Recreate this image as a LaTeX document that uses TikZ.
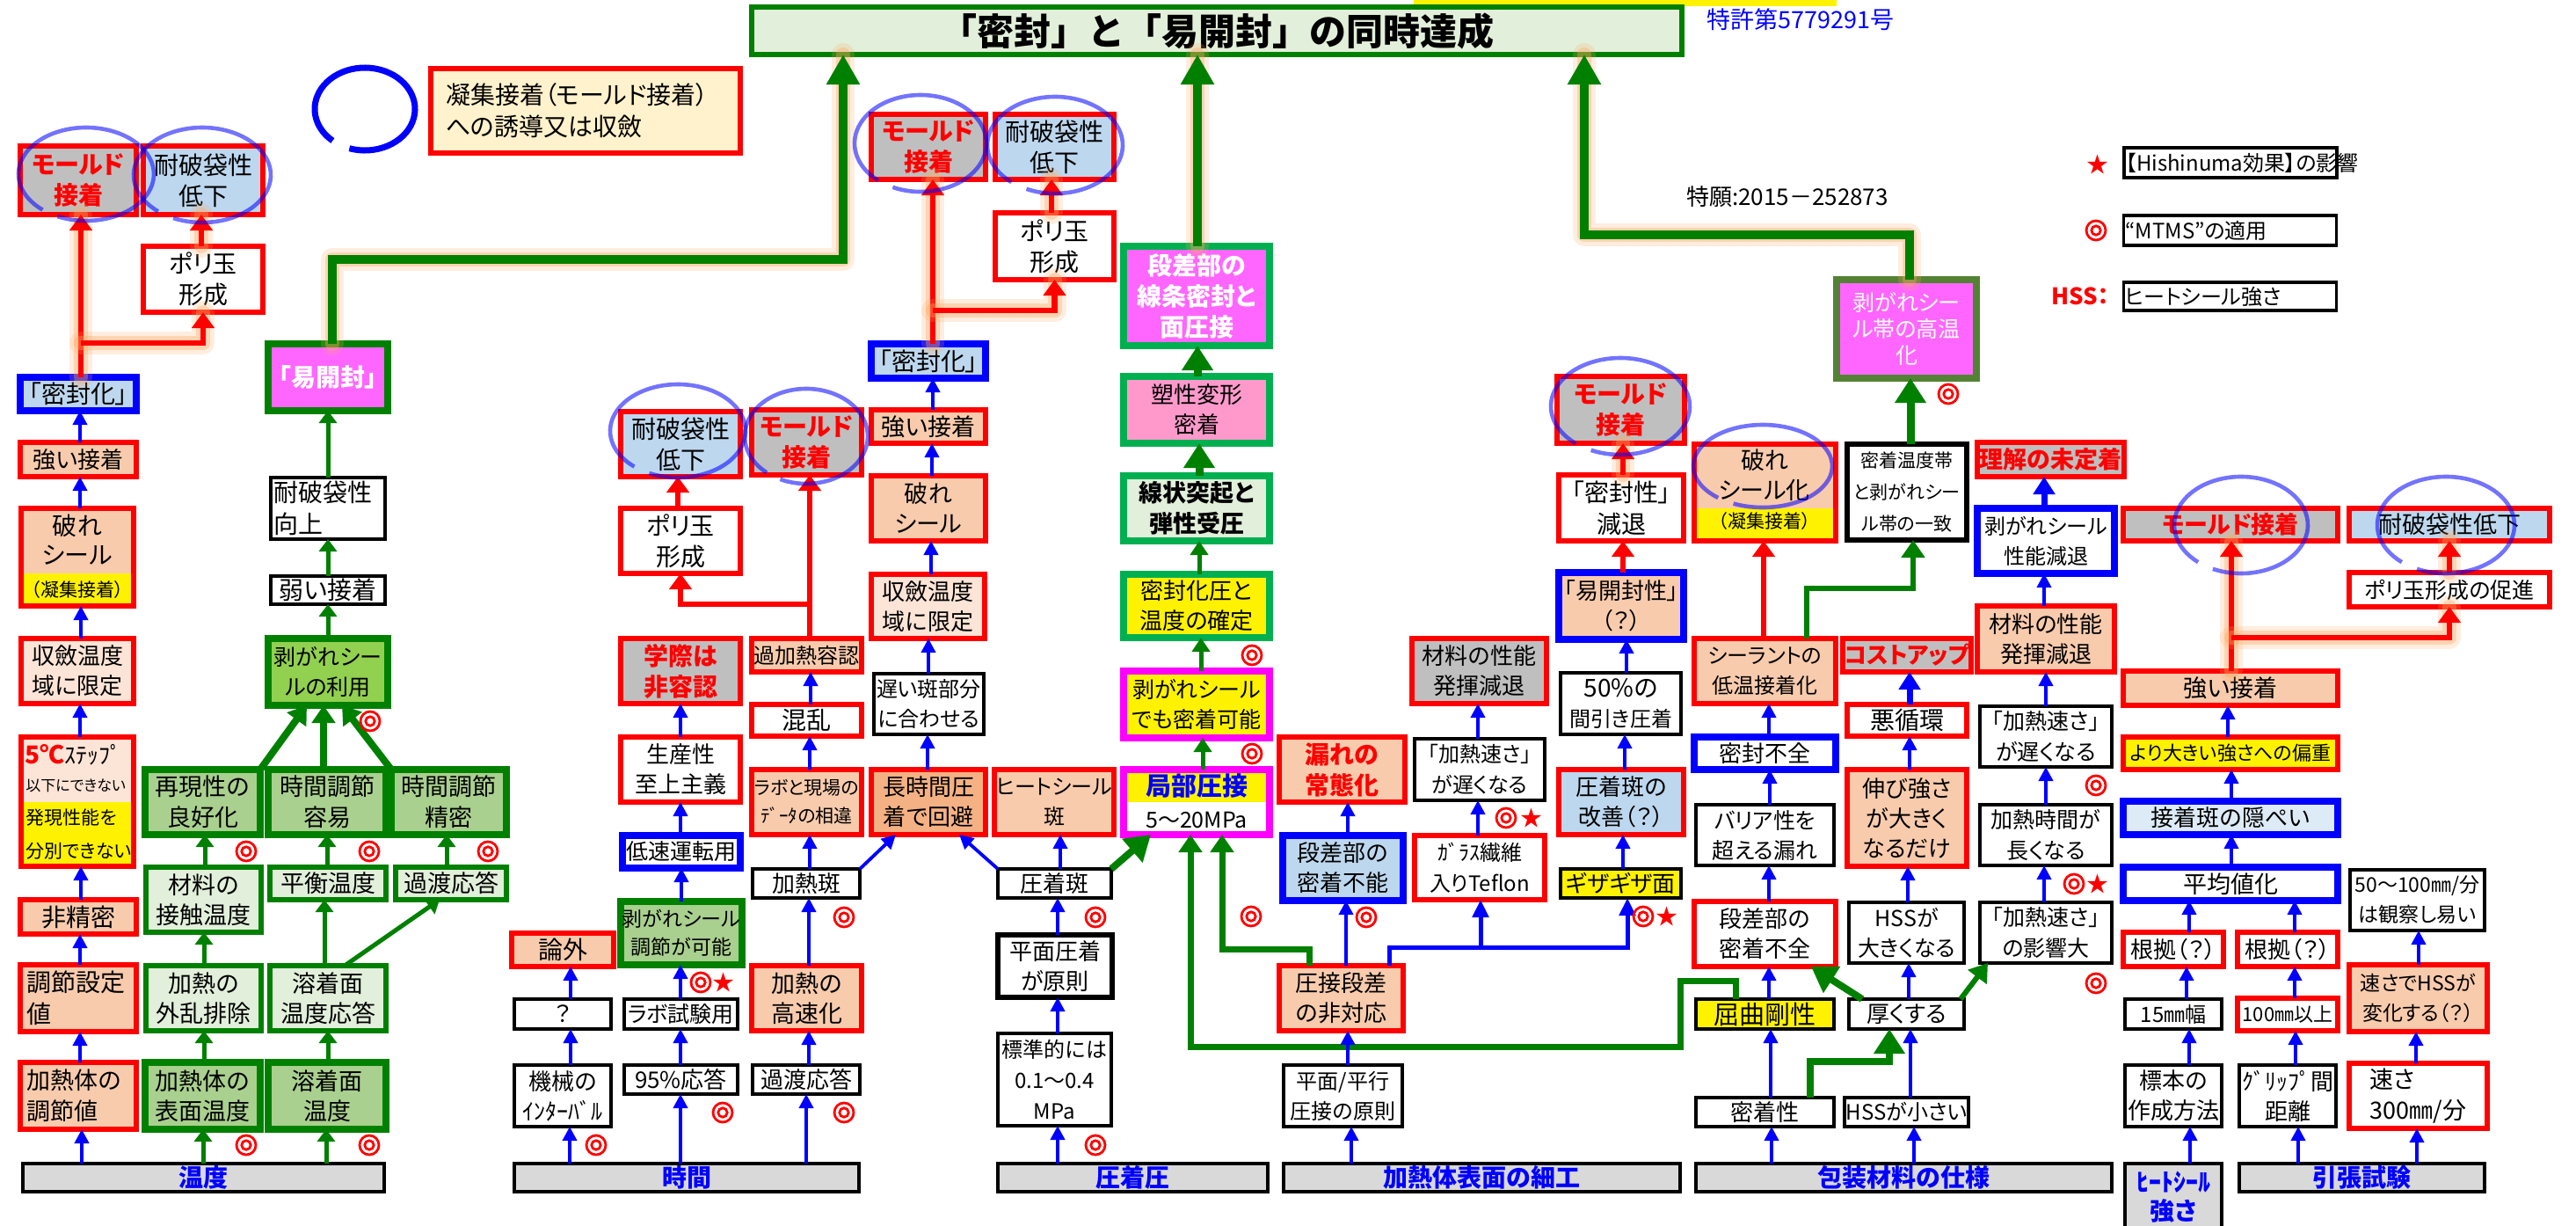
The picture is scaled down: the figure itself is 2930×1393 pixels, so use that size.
\documentclass[tikz,border=0pt]{standalone}
\usepackage{fontspec}
\setmainfont{Noto Sans CJK JP}[RawFeature=+palt]
\newfontfamily\plainjp{Noto Sans CJK JP}
\usetikzlibrary{arrows.meta}
\definecolor{grn}{HTML}{008000}
\definecolor{lgrn}{HTML}{00B050}
\definecolor{olv}{HTML}{548235}
\definecolor{mgb}{HTML}{FF00FF}
\definecolor{peach}{HTML}{F8CBAD}
\definecolor{lpeach}{HTML}{FCE4D6}
\definecolor{dpeach}{HTML}{F4B183}
\definecolor{gry}{HTML}{BFBFBF}
\definecolor{lblue}{HTML}{BDD7EE}
\definecolor{vlblue}{HTML}{DDEBF7}
\definecolor{lgreen}{HTML}{E2EFDA}
\definecolor{mgreen}{HTML}{A9D08E}
\definecolor{pgreen}{HTML}{92D050}
\definecolor{mag}{HTML}{FF66FF}
\definecolor{pink}{HTML}{FF99CC}
\definecolor{legy}{HTML}{FFF2CC}
\definecolor{barg}{HTML}{D9D9D9}
\definecolor{glowc}{HTML}{FFA860}
\newcommand\fz[2]{\fontsize{#1pt}{#2pt}\selectfont}
\newcommand\bx[7]{\node[box,#6,minimum width={(#4-#2)*0.5pt-3pt},minimum height={(#5-#3)*0.5pt-3pt}] (#1) at ({(#2+#4)/2},{(#3+#5)/2}) {#7};}
\newcommand\vup[4]{\draw[#1] (#2.north -| #4,0) -- (#3.south -| #4,0);}
\newcommand\lp[4]{\draw[ell] (#1,#2) ++(245:#3pt and #4pt) arc[start angle=245,end angle=590,x radius=#3pt,y radius=#4pt];}
\newcommand\dmk[3]{\node[dmsty] (#1) at (#2,#3) {};\draw[red,line width=1.4pt] (#1.center) circle[radius=2.6pt];}
\newcommand\stk[3]{\node[ststy] (#1) at (#2,#3) {★};}
\begin{document}
\begin{tikzpicture}[x=0.5pt,y=-0.5pt,
 box/.style={rectangle,outer sep=0pt,inner sep=1pt,align=center,font=\fz{13}{17}},
 rb/.style={draw=red,line width=3.2pt,fill=white},
 kb/.style={draw=black,line width=1.8pt,fill=white},
 kbt/.style={draw=black,line width=3pt,fill=white},
 kbl/.style={draw=black,line width=1.6pt,fill=white},
 bb/.style={draw=blue,line width=3.6pt,fill=white},
 gb/.style={draw=grn,line width=3.6pt},
 gbt/.style={draw=grn,line width=2.6pt},
 gb2/.style={draw=lgrn,line width=3.6pt},
 mb/.style={draw=mgb,line width=3.6pt},
 ob/.style={draw=olv,line width=3.6pt},
 barsty/.style={draw=black,line width=2pt,fill=barg,text=blue,font=\fz{14}{16.5}\bfseries},
 rt/.style={text=red,font=\fz{14}{17.5}\bfseries},
 lbl/.style={inner sep=0pt},
 glow/.style={preaction={draw=glowc,line width=13pt,opacity=0.2,arrows=-,line cap=round,line join=round},preaction={draw=glowc,line width=8pt,opacity=0.35,arrows=-,line cap=round,line join=round}},
 barr/.style={draw=blue,line width=1.9pt,-{Triangle[length=8pt,width=8pt]}},
 bthick/.style={draw=blue,line width=3.5pt,-{Triangle[length=10pt,width=12pt]}},
 bline/.style={draw=blue,line width=2.5pt,-{Triangle[length=10pt,width=9pt]}},
 rarr/.style={draw=red,line width=3.2pt,-{Triangle[length=9pt,width=12.5pt]}},
 garr/.style={draw=grn,line width=2.5pt,-{Triangle[length=7pt,width=10pt]}},
 gthick/.style={draw=grn,line width=4pt,-{Triangle[length=10pt,width=13pt]}},
 garr2/.style={draw=grn,line width=2.5pt,-{Triangle[length=8pt,width=10pt]}},
 gbig/.style={draw=grn,line width=4.5pt,-{Triangle[length=14pt,width=17pt]}},
 gline/.style={draw=grn,line width=3.5pt,-{Triangle[length=10pt,width=13pt]}},
 gtitle/.style={draw=grn,line width=5pt,-{Triangle[length=17pt,width=18pt]},glow},
 ell/.style={draw=blue,line width=2.3pt,opacity=0.55},
 dmsty/.style={circle,draw=red,line width=1.4pt,minimum size=11pt,inner sep=0pt},
 ststy/.style={text=red,font=\fz{12.5}{12.5},inner sep=0pt}
]
\fill[white] (0,0) rectangle (2930,1393);
\useasboundingbox (0,0) rectangle (2930,1393);
\fill[yellow] (1608,0) rectangle (2089,7);
% title and legend
\bx{tTitle}{852}{5}{1916}{65}{draw=grn,line width=3pt,fill=lgreen,font=\plainjp\fz{21}{21}\bfseries}{「密封」と「易開封」の同時達成}
\node[lbl,text=blue,font=\fz{13.5}{13.5}] (patent) at (2048,22) {特許第5779291号};
\node[lbl,font=\fz{13}{13}] (appl) at (2033,224) {特願:2015－252873};
\draw[blue,line width=3.5pt] (415,124) ++(252:28.5pt and 23.5pt) arc[start angle=252,end angle=590,x radius=28.5pt,y radius=23.5pt];
\bx{lgBox}{487}{75}{845}{177}{rb,fill=legy,text width=159pt,align=left,font=\fz{14}{18}}{凝集接着（モールド接着）\\への誘導又は収斂}
\stk{lgS}{2386}{187}
\bx{lgStar}{2414}{165}{2660}{205}{kbl,text width=119pt,align=left,font=\fz{12}{15}}{【Hishinuma効果】の影響}
\dmk{lgD}{2384}{262}
\bx{lgMt}{2414}{242}{2659}{282}{kbl,text width=119pt,align=left,font=\fz{12}{15}}{“MTMS”の適用}
\node[text=red,font=\fz{13}{13}\bfseries,inner sep=0pt] (lgH) at (2366,337) {HSS：};
\bx{lgHss}{2414}{318}{2659}{356}{kbl,text width=119pt,align=left,font=\fz{12}{15}}{ヒートシール強さ}
% column 1
\bx{aMold}{20}{163}{158}{247}{rb,fill=gry,rt}{モールド\\接着}
\bx{aTai}{160}{163}{302}{247}{rb,fill=lblue,font=\fz{14}{17.5}}{耐破袋性\\低下}
\bx{aPoly}{160}{277}{302}{358}{rb,font=\fz{14}{17.5}}{ポリ玉\\形成}
\bx{aMf}{20}{426}{158}{470}{bb,fill=lblue,font=\fz{14}{17}}{「密封化」}
\bx{aStr}{20}{500}{158}{545}{rb,fill=peach}{強い接着}
\fill[peach] (21,575) rectangle (155,652);
\fill[yellow] (21,652) rectangle (155,689);
\bx{aYab}{21}{575}{155}{692}{rb,fill=none}{}
\node[lbl,font=\fz{14}{14}] (aYab1) at (88,598) {破れ};
\node[lbl,font=\fz{14}{14}] (aYab2) at (88,631) {シール};
\node[lbl,font=\fz{10.5}{11}] (aYab3) at (88,671) {（凝集接着）};
\bx{aShu}{21}{723}{155}{803}{rb,fill=lpeach}{収斂温度\\域に限定}
\fill[lpeach] (21,835) rectangle (155,912);
\fill[yellow] (21,912) rectangle (155,985);
\bx{a5C}{21}{835}{155}{988}{rb,fill=none}{}
\node[lbl,anchor=west,font=\fz{13}{13}] (a5C1) at (28,858) {\textcolor{red}{\bfseries\fz{14}{14}5℃}ｽﾃｯﾌﾟ};
\node[lbl,anchor=west,font=\fz{8.5}{9}] (a5C2) at (29,893) {以下にできない};
\node[lbl,anchor=west,font=\fz{10.5}{11}] (a5C3) at (29,930) {発現性能を};
\node[lbl,anchor=west,font=\fz{10.5}{11}] (a5C4) at (29,968) {分別できない};
\bx{aHi}{20}{1020}{158}{1065}{rb,fill=peach,font=\fz{14}{17}}{非精密}
\bx{aCho}{20}{1094}{158}{1176}{rb,fill=peach,text width=58pt,align=left,font=\fz{14}{18}}{調節設定\\値}
\bx{aKa}{20}{1205}{158}{1287}{rb,fill=peach,text width=58pt,align=left,font=\fz{13.5}{17.5}}{加熱体の\\調節値}
\bx{barT}{23}{1320}{440}{1358}{barsty}{温度}
% column 2 (green group)
\bx{bEasy}{302}{388}{444}{470}{gb,fill=mag,text=white,font=\fz{14}{17}\bfseries}{「易開封」}
\bx{bTaiU}{305}{540}{441}{616}{kb,text width=62pt,align=left,font=\fz{14}{18}}{耐破袋性\\向上}
\bx{bWeak}{305}{652}{441}{690}{kb,font=\fz{14}{17}}{弱い接着}
\bx{bPeel}{302}{723}{444}{805}{gb,fill=pgreen,font=\fz{12.5}{17}}{剥がれシー\\ルの利用}
\bx{bRep}{162}{872}{299}{952}{gb,fill=mgreen,font=\fz{13.5}{17.5}}{再現性の\\良好化}
\bx{bTE}{302}{872}{442}{952}{gb,fill=mgreen,font=\fz{13.5}{17.5}}{時間調節\\容易}
\bx{bTP}{442}{872}{579}{952}{gb,fill=mgreen,font=\fz{13.5}{17.5}}{時間調節\\精密}
\bx{bMat}{163}{983}{300}{1063}{gbt,fill=lgreen,font=\fz{13.5}{17}}{材料の\\接触温度}
\bx{bEq}{304}{983}{442}{1026}{gbt,fill=lgreen,font=\fz{13.5}{17}}{平衡温度}
\bx{bTr}{447}{983}{579}{1026}{gbt,fill=lgreen,font=\fz{13.5}{17}}{過渡応答}
\bx{bDis}{163}{1095}{300}{1175}{gbt,fill=lgreen,font=\fz{13.5}{17}}{加熱の\\外乱排除}
\bx{bResp}{304}{1095}{442}{1175}{gbt,fill=lgreen,font=\fz{13.5}{17}}{溶着面\\温度応答}
\bx{bSurf}{162}{1205}{299}{1287}{gb,fill=mgreen,font=\fz{13.5}{17}}{加熱体の\\表面温度}
\bx{bWeld}{302}{1205}{442}{1287}{gb,fill=mgreen,font=\fz{13.5}{17}}{溶着面\\温度}
% time group
\bx{cRon}{579}{1058}{701}{1102}{rb,fill=peach,font=\fz{14}{17}}{論外}
\bx{cQ}{582}{1133}{698}{1173}{kb}{？}
\bx{cMach}{582}{1208}{698}{1284}{kb}{機械の\\ｲﾝﾀｰﾊﾞﾙ}
\bx{barJ}{582}{1320}{980}{1358}{barsty}{時間}
\bx{c95}{707}{1208}{842}{1247}{kb}{95\%応答}
\bx{cTr}{853}{1208}{981}{1247}{kb}{過渡応答}
\bx{cLab}{707}{1133}{842}{1173}{kb,font=\fz{12.5}{17}}{ラボ試験用}
\bx{cPeelA}{705}{1022}{845}{1100}{gb,fill=mgreen,font=\fz{11.5}{16}}{剥がれシール\\調節が可能}
\bx{cSlow}{705}{947}{845}{990}{bb,font=\fz{12.5}{17}}{低速運転用}
\bx{cProd}{703}{835}{845}{915}{rb}{生産性\\至上主義}
\bx{cGak}{703}{723}{845}{803}{rb,fill=gry,rt}{学際は\\非容認}
\bx{cPoly}{703}{575}{845}{655}{rb,font=\fz{14}{17.5}}{ポリ玉\\形成}
\bx{cTai}{703}{465}{845}{545}{rb,fill=lblue,font=\fz{14}{17.5}}{耐破袋性\\低下}
\bx{cMold}{852}{463}{983}{543}{rb,fill=gry,rt}{モールド\\接着}
\bx{cOver}{852}{723}{983}{767}{rb,fill=peach,font=\fz{12}{16}}{過加熱容認}
\bx{cKon}{852}{798}{983}{840}{rb,font=\fz{14}{17}}{混乱}
\bx{cLabD}{852}{872}{983}{952}{rb,fill=peach,font=\fz{10.5}{16}}{ラボと現場の\\ﾃﾞｰﾀの相違}
\bx{cHan}{853}{985}{981}{1024}{kb}{加熱斑}
\bx{cFast}{852}{1095}{983}{1175}{rb,fill=peach,font=\fz{13.5}{17}}{加熱の\\高速化}
% column 6
\bx{dMold}{988}{127}{1124}{207}{rb,fill=gry,rt}{モールド\\接着}
\bx{dTai}{1129}{127}{1270}{207}{rb,fill=lblue,font=\fz{14}{17.5}}{耐破袋性\\低下}
\bx{dPoly}{1129}{239}{1270}{321}{rb,font=\fz{14}{17.5}}{ポリ玉\\形成}
\bx{dMf}{988}{388}{1124}{433}{bb,fill=lblue,font=\fz{14}{17}}{「密封化」}
\bx{dStr}{988}{463}{1124}{507}{rb,fill=peach,font=\fz{13.5}{17}}{強い接着}
\bx{dYab}{988}{538}{1124}{618}{rb,fill=peach,font=\fz{13.5}{17}}{破れ\\シール}
\bx{dShu}{988}{650}{1123}{729}{rb,fill=lpeach}{収斂温度\\域に限定}
\bx{dSlow}{991}{763}{1122}{838}{kb,font=\fz{12}{17}}{遅い斑部分\\に合わせる}
\bx{dLong}{988}{872}{1124}{952}{rb,fill=dpeach}{長時間圧\\着で回避}
\bx{dHs}{1129}{872}{1269}{952}{rb,fill=peach,font=\fz{12}{17}}{ヒートシール\\斑}
\bx{dAh}{1132}{985}{1267}{1024}{kb}{圧着斑}
\bx{dPl}{1132}{1060}{1268}{1137}{kbt}{平面圧着\\が原則}
\bx{dStd}{1132}{1172}{1267}{1283}{kb,font=\fz{12}{17.5}}{標準的には\\0.1～0.4\\MPa}
\bx{barA}{1132}{1320}{1445}{1358}{barsty}{圧着圧}
% column 7
\bx{eDan}{1275}{277}{1447}{396}{gb2,fill=mag,text=white,font=\fz{14}{17.5}\bfseries}{段差部の\\線条密封と\\面圧接}
\bx{eSo}{1275}{425}{1447}{507}{gb2,fill=pink}{塑性変形\\密着}
\bx{eSen}{1275}{538}{1447}{618}{gb2,fill=lgreen,font=\fz{13.5}{17.5}\bfseries}{線状突起と\\弾性受圧}
\bx{eKak}{1275}{650}{1447}{728}{gb2,fill=yellow}{密封化圧と\\温度の確定}
\bx{ePeel}{1275}{760}{1447}{842}{mb,fill=yellow,font=\fz{12.5}{17}}{剥がれシール\\でも密着可能}
\fill[yellow] (1275,872) rectangle (1447,912);
\fill[white] (1275,912) rectangle (1447,952);
\bx{eLoc}{1275}{872}{1447}{952}{mb,fill=none}{}
\node[lbl,text=blue,font=\fz{14.5}{14.5}\bfseries] (eLoc1) at (1361,894) {局部圧接};
\node[lbl,font=\fz{12.5}{12.5}] (eLoc2) at (1361,932) {5～20MPa};
% column 8
\bx{fMore}{1452}{835}{1601}{915}{rb,fill=peach,rt}{漏れの\\常態化}
\bx{fDan}{1456}{947}{1599}{1027}{bb,fill=lblue}{段差部の\\密着不能}
\bx{fAtsu}{1452}{1095}{1599}{1175}{rb,fill=peach}{圧接段差\\の非対応}
\bx{fHei}{1457}{1208}{1598}{1284}{kb,font=\fz{12}{17}}{平面/平行\\圧接の原則}
\bx{barH}{1457}{1320}{1914}{1358}{barsty}{加熱体表面の細工}
% column 9
\bx{gMold}{1768}{425}{1919}{507}{rb,fill=gry,rt}{モールド\\接着}
\bx{gMit}{1770}{537}{1918}{618}{rb,font=\fz{14}{18}}{「密封性」\\減退}
\bx{gEo}{1770}{648}{1918}{730}{bb,fill=peach}{「易開封性」\\（？）}
\bx{g50}{1772}{762}{1915}{838}{kb,font=\fz{12}{17}}{{\fz{14}{17}50\%の}\\間引き圧着}
\bx{gKai}{1770}{872}{1918}{952}{rb,fill=lblue}{圧着斑の\\改善（？）}
\bx{gGiz}{1772}{985}{1915}{1024}{kb,fill=yellow}{ギザギザ面}
\bx{gMat}{1603}{723}{1762}{803}{rb,fill=gry}{材料の性能\\発揮減退}
\bx{gKa}{1606}{837}{1760}{913}{kb,font=\fz{12}{17.5}}{「加熱速さ」\\が遅くなる}
\bx{gGl}{1606}{947}{1760}{1026}{rb,font=\fz{12}{17.5}}{ｶﾞﾗｽ繊維\\入りTeflon}
% column 10
\fill[peach] (1924,502) rectangle (2091,578);
\fill[yellow] (1924,578) rectangle (2091,614);
\bx{hYab}{1924}{502}{2091}{618}{rb,fill=none}{}
\node[lbl,font=\fz{13.5}{13.5}] (hYab1) at (2007,523) {破れ};
\node[lbl,font=\fz{13.5}{13.5}] (hYab2) at (2007,557) {シール化};
\node[lbl,font=\fz{10.5}{11}] (hYab3) at (2007,593) {（凝集接着）};
\bx{hSea}{1924}{723}{2091}{803}{rb,fill=peach,font=\fz{12}{17}}{シーラントの\\低温接着化}
\bx{hMf}{1924}{835}{2091}{878}{bb}{密封不全}
\bx{hBar}{1926}{912}{2089}{987}{kb,font=\fz{12.5}{17}}{バリア性を\\超える漏れ}
\bx{hDan}{1924}{1022}{2091}{1102}{rb}{段差部の\\密着不全}
\bx{hKut}{1926}{1133}{2089}{1173}{kb,fill=yellow,font=\fz{14.5}{17}}{屈曲剛性}
\bx{hMit}{1926}{1245}{2089}{1284}{kb}{密着性}
\bx{barP}{1926}{1320}{2405}{1358}{barsty}{包装材料の仕様}
\bx{hAtsu}{2100}{1133}{2237}{1173}{kb}{厚くする}
\bx{hHssS}{2100}{1245}{2237}{1284}{kb,font=\fz{12}{17}}{HSSが小さい}
\bx{hHssL}{2100}{1023}{2237}{1098}{kb,font=\fz{12.5}{17}}{HSSが\\大きくなる}
\bx{hNobi}{2098}{872}{2240}{988}{rb,fill=peach}{伸び強さ\\が大きく\\なるだけ}
\bx{hAku}{2098}{798}{2240}{840}{rb,font=\fz{14}{17}}{悪循環}
\bx{hCost}{2098}{723}{2240}{767}{rb,fill=gry,text=red,font=\fz{13}{17}\bfseries}{コストアップ}
\bx{hMitT}{2098}{502}{2240}{617}{kbt,font=\fz{10.5}{18}}{密着温度帯\\と剥がれシー\\ル帯の一致}
\bx{hHigh}{2086}{315}{2251}{433}{ob,fill=mag,text=white,font=\fz{12.5}{15}}{剥がれシー\\ル帯の高温\\化}
% column 11
\bx{iRik}{2246}{500}{2419}{545}{rb,fill=gry,text=red,font=\fz{13.5}{17}\bfseries}{理解の未定着}
\bx{iPeel}{2246}{575}{2408}{655}{bb,font=\fz{12}{17}}{剥がれシール\\性能減退}
\bx{iMat}{2246}{686}{2408}{767}{rb,fill=peach}{材料の性能\\発揮減退}
\bx{iKa}{2249}{800}{2405}{875}{kb,font=\fz{12.5}{17.5}}{「加熱速さ」\\が遅くなる}
\bx{iJi}{2249}{912}{2405}{987}{kb,font=\fz{12.5}{17.5}}{加熱時間が\\長くなる}
\bx{iEi}{2249}{1023}{2405}{1098}{kb,font=\fz{12.5}{17.5}}{「加熱速さ」\\の影響大}
% column 12
\bx{jMold}{2412}{575}{2662}{618}{rb,fill=gry,text=red,font=\fz{13.5}{17}\bfseries}{モールド接着}
\bx{jTai}{2669}{575}{2903}{618}{rb,fill=lblue,font=\fz{13.5}{17}}{耐破袋性低下}
\bx{jPoly}{2669}{648}{2903}{693}{rb,font=\fz{12.5}{17}}{ポリ玉形成の促進}
\bx{jStr}{2412}{760}{2662}{805}{rb,fill=peach,font=\fz{13.5}{17}}{強い接着}
\bx{jYori}{2412}{835}{2662}{878}{rb,fill=yellow,font=\fz{11}{17}}{より大きい強さへの偏重}
\bx{jSetsu}{2412}{908}{2662}{952}{bb,fill=vlblue}{接着斑の隠ぺい}
\bx{jAvg}{2412}{983}{2662}{1027}{bb,font=\fz{13.5}{17}}{平均値化}
\bx{jK1}{2412}{1057}{2532}{1102}{rb}{根拠（？）}
\bx{jK2}{2542}{1057}{2662}{1102}{rb}{根拠（？）}
\bx{j15}{2414}{1133}{2530}{1173}{kb,font=\fz{12}{17}}{15㎜幅}
\bx{j100}{2542}{1132}{2662}{1175}{rb,font=\fz{11}{17}}{100㎜以上}
\bx{jHyo}{2414}{1208}{2530}{1284}{kb}{標本の\\作成方法}
\bx{jGri}{2544}{1208}{2660}{1284}{kb}{ｸﾞﾘｯﾌﾟ間\\距離}
\bx{j50}{2670}{986}{2829}{1061}{kb,font=\fz{11.5}{17}}{50～100㎜/分\\は観察し易い}
\bx{jHssC}{2669}{1094}{2832}{1176}{rb,fill=peach,font=\fz{11.5}{17}}{速さでHSSが\\変化する（？）}
\bx{jSpd}{2669}{1206}{2832}{1286}{rb,text width=55pt,align=left,font=\fz{13.5}{17.5}}{速さ\\300㎜/分}
\bx{barHS}{2414}{1320}{2530}{1402}{barsty}{ﾋｰﾄｼｰﾙ\\強さ}
\bx{barTen}{2544}{1320}{2829}{1358}{barsty}{引張試験}
% ---------------- connectors ----------------
% column 1
\vup{barr}{aStr}{aMf}{91}
\vup{barr}{aYab}{aStr}{91}
\vup{barr}{aShu}{aYab}{92}
\vup{barr}{a5C}{aShu}{91}
\vup{barr}{aHi}{a5C}{92}
\vup{barr}{aCho}{aHi}{91}
\vup{barr}{aKa}{aCho}{91}
\vup{barr}{barT}{aKa}{93}
\coordinate (aBr) at (92,390);
\draw[rarr,glow] (aMf.north -| 92,0) -- (aMold.south -| 92,0);
\draw[rarr,glow] (aBr) -| (aPoly.south);
\draw[rarr,glow] (aPoly.north -| 229,0) -- (aTai.south -| 229,0);
% green to title
\draw[gtitle] (bEasy.north -| 378,0) |- (959,295) -- (tTitle.south -| 959,0);
\vup{gtitle}{eDan}{tTitle}{1362}
\draw[gtitle] (hHigh.north -| 2172,0) |- (1802,267) -- (tTitle.south -| 1802,0);
% column 2
\vup{garr}{bTaiU}{bEasy}{373}
\vup{garr}{bWeak}{bTaiU}{373}
\vup{garr}{bPeel}{bWeak}{373}
\draw[gthick] (bRep.north east) -- (bPeel.south -| 349,0);
\vup{gthick}{bTE}{bPeel}{368}
\draw[gthick] (bTP.north west) -- (bPeel.south -| 389,0);
\vup{garr}{bMat}{bRep}{233}
\vup{garr}{bEq}{bTE}{372}
\vup{garr}{bTr}{bTP}{508}
\vup{garr}{bDis}{bMat}{232}
\vup{garr}{bResp}{bEq}{369}
\draw[garr] (bResp.north -| 392,0) -- (bTr.south -| 500,0);
\vup{garr}{bSurf}{bDis}{232}
\vup{garr}{bWeld}{bResp}{373}
\vup{garr}{barT}{bSurf}{231}
\vup{garr}{barT}{bWeld}{371}
% time group
\vup{barr}{cQ}{cRon}{649}
\vup{barr}{cMach}{cQ}{649}
\vup{barr}{barJ}{cMach}{648}
\vup{barr}{barJ}{c95}{774}
\vup{barr}{barJ}{cTr}{917}
\vup{barr}{c95}{cLab}{774}
\vup{barr}{cLab}{cPeelA}{774}
\vup{barr}{cPeelA}{cSlow}{775}
\vup{barr}{cSlow}{cProd}{774}
\vup{barr}{cProd}{cGak}{774}
\vup{rarr}{cPoly}{cTai}{771}
\coordinate (cBr) at (921,687);
\draw[rarr,line width=2.9pt] (cOver.north -| 921,0) -- (cMold.south -| 921,0);
\draw[rarr,line width=2.9pt] (cBr) -| (cPoly.south);
\vup{barr}{cKon}{cOver}{922}
\vup{barr}{cLabD}{cKon}{921}
\vup{barr}{cHan}{cLabD}{921}
\vup{barr}{cFast}{cHan}{920}
\vup{barr}{cTr}{cFast}{920}
\draw[barr] (cHan.north east) -- (dLong.south -| 1019,0);
% column 6
\vup{barr}{dStr}{dMf}{1061}
\vup{barr}{dYab}{dStr}{1060}
\vup{barr}{dShu}{dYab}{1059}
\vup{barr}{dSlow}{dShu}{1056}
\vup{barr}{dLong}{dSlow}{1055}
\coordinate (dBr) at (1061,353);
\draw[rarr,glow] (dMf.north -| 1061,0) -- (dMold.south -| 1061,0);
\draw[rarr,glow] (dBr) -| (dPoly.south);
\draw[rarr,glow] (dPoly.north -| 1196,0) -- (dTai.south -| 1196,0);
\vup{barr}{dAh}{dHs}{1206}
\draw[barr] (dAh.north west) -- (dLong.south -| 1091,0);
\draw[gbig,line width=4pt] (dAh.north east) -- (eLoc.south -| 1309,0);
\vup{barr}{dPl}{dAh}{1203}
\vup{barr}{dStd}{dPl}{1203}
\vup{barr}{barA}{dStd}{1203}
% column 7
\vup{gbig}{eSo}{eDan}{1362}
\vup{gbig}{eSen}{eSo}{1364}
\vup{garr2}{eKak}{eSen}{1364}
\vup{garr2}{ePeel}{eKak}{1366}
\vup{garr2}{eLoc}{ePeel}{1368}
\draw[gline] (fAtsu.north -| 1489,0) |- (1390,1079) -- (eLoc.south -| 1390,0);
\draw[gline] (hKut.north -| 1974,0) |- (1911,1115) |- (1354,1190) -- (eLoc.south -| 1354,0);
% column 8
\vup{barr}{fDan}{fMore}{1533}
\vup{barr}{fAtsu}{fDan}{1531}
\vup{barr}{fHei}{fAtsu}{1533}
\vup{barr}{barH}{fHei}{1537}
\coordinate (fBr) at (1684,1077);
\draw[bline] (fAtsu.north -| 1580,0) |- (1851,1077) -- (gGiz.south -| 1851,0);
\draw[bline] (fBr) -- (gGl.south -| 1684,0);
% column 9
\vup{barr}{gKa}{gMat}{1681}
\vup{barr}{gGl}{gKa}{1681}
\draw[rarr,glow] (gMit.north -| 1846,0) -- (gMold.south -| 1846,0);
\vup{rarr}{gEo}{gMit}{1846}
\vup{barr}{g50}{gEo}{1850}
\vup{barr}{gKai}{g50}{1848}
\vup{barr}{gGiz}{gKai}{1846}
% column 10
\vup{rarr}{hSea}{hYab}{2006}
\draw[gline,line width=3pt] (hSea.north -| 2055,0) |- (2176,669) -- (hMitT.south -| 2176,0);
\vup{barr}{hMf}{hSea}{2012}
\vup{barr}{hBar}{hMf}{2013}
\vup{barr}{hDan}{hBar}{2012}
\vup{barr}{hKut}{hDan}{2012}
\vup{barr}{hMit}{hKut}{2014}
\vup{barr}{barP}{hMit}{2015}
\vup{barr}{barP}{hHssS}{2177}
\vup{barr}{hHssS}{hAtsu}{2173}
\draw[gbig,line width=4pt] (hMit.north -| 2059,0) |- (2149,1207) -- (hAtsu.south -| 2149,0);
\draw[gbig,line width=4pt] (hAtsu.north -| 2118,0) -- (hDan.south -| 2060,0);
\draw[gline,line width=3pt] (hAtsu.north -| 2230,0) -- (iEi.south -| 2261,0);
\vup{barr}{hAtsu}{hHssL}{2171}
\vup{barr}{hHssL}{hNobi}{2170}
\vup{barr}{hNobi}{hAku}{2172}
\vup{bthick}{hAku}{hCost}{2172}
\vup{gbig}{hMitT}{hHigh}{2173}
% column 11
\vup{bthick}{iPeel}{iRik}{2325}
\vup{barr}{iMat}{iPeel}{2325}
\vup{barr}{iKa}{iMat}{2327}
\vup{barr}{iJi}{iKa}{2327}
\vup{barr}{iEi}{iJi}{2325}
% column 12
\coordinate (jBr) at (2538,725);
\draw[rarr,glow] (jStr.north -| 2538,0) -- (jMold.south -| 2538,0);
\draw[rarr,glow] (jBr) -| (jPoly.south);
\draw[rarr,glow] (jPoly.north) -- (jTai.south -| jPoly.north);
\vup{barr}{jYori}{jStr}{2534}
\vup{barr}{jSetsu}{jYori}{2538}
\vup{barr}{jAvg}{jSetsu}{2538}
\vup{barr}{jK1}{jAvg}{2490}
\vup{barr}{jK2}{jAvg}{2610}
\vup{barr}{j15}{jK1}{2487}
\vup{barr}{j100}{jK2}{2610}
\vup{barr}{jHyo}{j15}{2490}
\vup{barr}{jGri}{j100}{2611}
\vup{barr}{jHssC}{j50}{2751}
\vup{barr}{jSpd}{jHssC}{2748}
\vup{barr}{barHS}{jHyo}{2491}
\vup{barr}{barTen}{jGri}{2614}
\vup{barr}{barTen}{jSpd}{2749}
% ---------------- marks ----------------
\dmk{m1}{280}{968}
\dmk{m2}{420}{968}
\dmk{m3}{555}{968}
\dmk{m4}{421}{820}
\dmk{m5}{280}{1302}
\dmk{m6}{420}{1302}
\dmk{m7}{678}{1302}
\dmk{m8}{822}{1265}
\dmk{m9}{960}{1265}
\dmk{m10}{797}{1117}
\stk{s10}{823}{1117}
\dmk{m11}{960}{1043}
\dmk{m12}{1246}{1043}
\dmk{m13}{1246}{1302}
\dmk{m14}{1424}{745}
\dmk{m15}{1424}{857}
\dmk{m16}{1423}{1042}
\dmk{m17}{1554}{1043}
\dmk{m18}{1713}{930}
\stk{s18}{1742}{930}
\dmk{m19}{1869}{1042}
\stk{s19}{1896}{1042}
\dmk{m20}{2216}{448}
\dmk{m21}{2384}{893}
\dmk{m22}{2359}{1005}
\stk{s22}{2386}{1005}
\dmk{m23}{2384}{1118}
% ---------------- hand-drawn loops ----------------
\lp{98}{198}{38.5}{26.5}
\lp{230}{199}{39}{27}
\lp{1047}{163}{37.5}{27.5}
\lp{1200}{165}{38.5}{27.5}
\lp{771}{490}{38.5}{26.5}
\lp{917}{496}{35}{27}
\lp{1843}{462}{39.5}{27.5}
\lp{2005}{530}{39.5}{23.5}
\lp{2549}{597}{38}{27.5}
\lp{2782}{597}{39}{27.5}
\end{tikzpicture}
\end{document}
